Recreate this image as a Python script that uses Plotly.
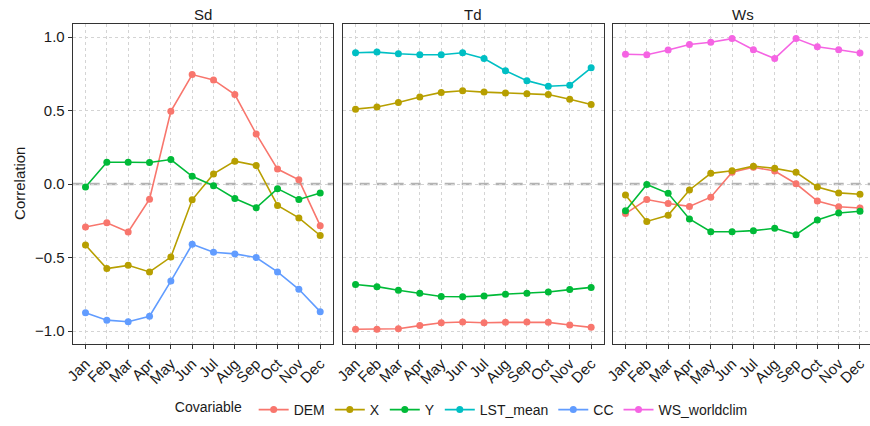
import plotly.graph_objects as go

months = ["Jan", "Feb", "Mar", "Apr", "May", "Jun", "Jul", "Aug", "Sep", "Oct", "Nov", "Dec"]
facets = ["Sd", "Td", "Ws"]
y_ticks = [-1.0, -0.5, 0.0, 0.5, 1.0]
y_tick_labels = ["\u22121.0", "\u22120.5", "0.0", "0.5", "1.0"]

colors = {
    "DEM": "#F8766D", "X": "#B79F00", "Y": "#00BA38",
    "LST_mean": "#00BFC4", "CC": "#619CFF", "WS_worldclim": "#F564E3",
}
covariables = ["DEM", "X", "Y", "LST_mean", "CC", "WS_worldclim"]

# Sd panel
sd_DEM = [-0.292, -0.263, -0.326, -0.103, 0.495, 0.745, 0.709, 0.609, 0.341, 0.102, 0.029, -0.283]
sd_X = [-0.415, -0.575, -0.553, -0.598, -0.497, -0.107, 0.069, 0.156, 0.127, -0.145, -0.230, -0.350]
sd_Y = [-0.020, 0.149, 0.149, 0.147, 0.167, 0.053, -0.011, -0.098, -0.161, -0.031, -0.105, -0.060]
sd_CC = [-0.876, -0.926, -0.937, -0.899, -0.660, -0.410, -0.464, -0.475, -0.500, -0.598, -0.716, -0.868]

# Td panel
td_DEM = [-0.988, -0.988, -0.984, -0.963, -0.944, -0.939, -0.944, -0.941, -0.939, -0.941, -0.959, -0.975]
td_X = [0.510, 0.524, 0.555, 0.593, 0.624, 0.635, 0.626, 0.619, 0.615, 0.609, 0.577, 0.542]
td_Y = [-0.683, -0.698, -0.723, -0.743, -0.765, -0.767, -0.761, -0.749, -0.743, -0.734, -0.718, -0.703]
td_LST_mean = [0.894, 0.898, 0.887, 0.880, 0.880, 0.894, 0.854, 0.771, 0.704, 0.666, 0.673, 0.791]

# Ws panel
ws_DEM = [-0.201, -0.105, -0.132, -0.152, -0.089, 0.080, 0.114, 0.089, 0.002, -0.116, -0.154, -0.163]
ws_X = [-0.074, -0.254, -0.212, -0.040, 0.073, 0.091, 0.122, 0.107, 0.080, -0.020, -0.060, -0.069]
ws_Y = [-0.181, -0.003, -0.063, -0.237, -0.324, -0.324, -0.317, -0.301, -0.344, -0.245, -0.197, -0.185]
ws_WS_worldclim = [0.883, 0.880, 0.912, 0.950, 0.965, 0.990, 0.914, 0.854, 0.990, 0.934, 0.914, 0.892]

panel_data = {
    "Sd": {"DEM": sd_DEM, "X": sd_X, "Y": sd_Y, "CC": sd_CC},
    "Td": {"DEM": td_DEM, "X": td_X, "Y": td_Y, "LST_mean": td_LST_mean},
    "Ws": {"DEM": ws_DEM, "X": ws_X, "Y": ws_Y, "WS_worldclim": ws_WS_worldclim},
}

W, H = 870, 426
FONT = "Liberation Sans, Arial, sans-serif"
TXT = "#1a1a1a"
BORDER = "#333333"

# panel pixel extents (right panel runs off the edge, as in the original)
px_x = [(72.7, 333.0), (342.7, 604.0), (612.7, 870.0)]
px_top, px_bot = 24.0, 350.0
x_ranges = [[0.4, 12.6], [0.4, 12.6], [0.4, 12.47]]

fig = go.Figure()
shown = set()
for i, f in enumerate(facets):
    ax = "" if i == 0 else str(i + 1)
    for cov in covariables:
        if cov not in panel_data[f]:
            continue
        fig.add_trace(go.Scatter(
            x=list(range(1, 13)), y=panel_data[f][cov],
            mode="lines+markers", name=cov, legendgroup=cov,
            legendrank=covariables.index(cov) + 1,
            showlegend=cov not in shown,
            line=dict(color=colors[cov], width=1.6),
            marker=dict(color=colors[cov], size=7),
            xaxis="x" + ax, yaxis="y" + ax,
        ))
        shown.add(cov)

layout = dict(
    width=W, height=H,
    margin=dict(l=0, r=0, t=0, b=0),
    paper_bgcolor="white", plot_bgcolor="white",
    font=dict(family=FONT, size=14, color=TXT),
    showlegend=True,
    legend=dict(
        orientation="h", x=0.532, xanchor="center", y=(H - 417) / H, yanchor="middle",
        title=dict(text="Covariable ", side="left", font=dict(size=14, color=TXT)),
        font=dict(size=14, color=TXT), traceorder="normal",
        bgcolor="rgba(0,0,0,0)",
    ),
)
shapes = []
annotations = []
for i, f in enumerate(facets):
    ax = "" if i == 0 else str(i + 1)
    x0, x1 = px_x[i]
    last = (i == 2)
    layout["xaxis" + ax] = dict(
        domain=[x0 / W, x1 / W], range=x_ranges[i], automargin=False,
        tickmode="array", tickvals=list(range(1, 13)), ticktext=months,
        tickangle=-45, ticks="outside", ticklen=4, tickcolor=BORDER, tickwidth=1,
        showgrid=True, gridcolor="#d4d4d4", gridwidth=0.8, griddash="3px,3px",
        zeroline=False, showline=True, linecolor=BORDER, linewidth=1, mirror=True,
        tickfont=dict(size=15, color=TXT), anchor="y" + ax,
    )
    layout["yaxis" + ax] = dict(
        domain=[(H - px_bot) / H, (H - px_top) / H], range=[-1.09, 1.092], automargin=False,
        tickmode="array", tickvals=y_ticks, ticktext=y_tick_labels,
        showticklabels=(i == 0), ticks="outside" if i == 0 else "", ticklen=4,
        tickcolor=BORDER,
        showgrid=True, gridcolor="#d4d4d4", gridwidth=0.8, griddash="3px,3px",
        zeroline=False, showline=True, linecolor=BORDER, linewidth=1,
        mirror=(not last),
        tickfont=dict(size=15, color=TXT), anchor="x" + ax,
    )
    shapes.append(dict(
        type="line", xref="x" + ax + " domain", yref="y" + ax,
        x0=0, x1=1, y0=0, y1=0,
        line=dict(color="#b3b3b3", width=2.5, dash="10px,7px"), layer="below",
    ))
    annotations.append(dict(
        text=f, xref="paper", yref="paper",
        x=(x0 + (x1 if not last else 873.7)) / 2 / W, y=(H - 15) / H,
        showarrow=False, font=dict(size=15, color=TXT), xanchor="center", yanchor="middle",
    ))

annotations.append(dict(
    text="Correlation", xref="paper", yref="paper",
    x=20 / W, y=(H - (px_top + px_bot) / 2) / H, textangle=-90,
    showarrow=False, font=dict(size=15, color=TXT), xanchor="center", yanchor="middle",
))

layout["shapes"] = shapes
layout["annotations"] = annotations
fig.update_layout(**layout)
fig.write_html(
    "out.html",
    config={"displayModeBar": False},
    post_script="document.documentElement.style.margin='0';document.body.style.margin='0';",
)
